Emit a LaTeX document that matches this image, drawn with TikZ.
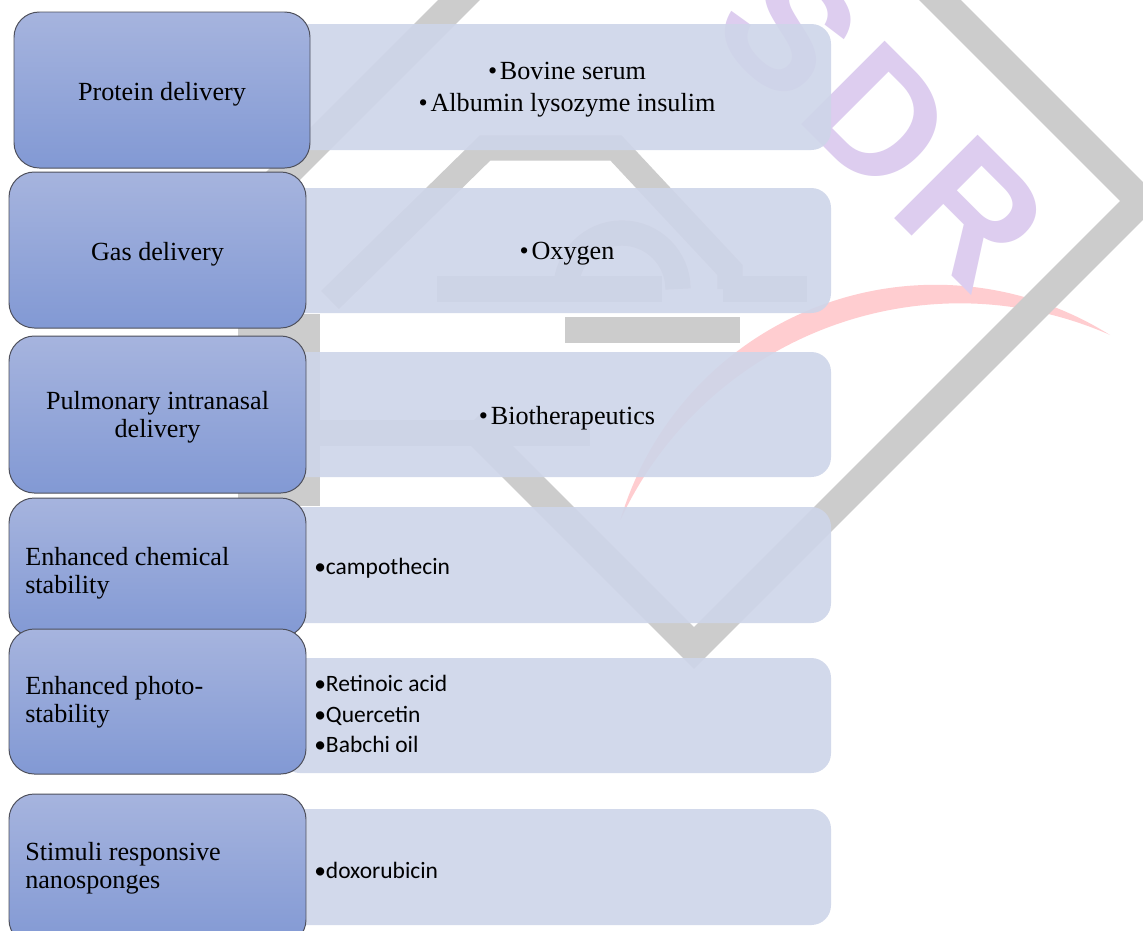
\documentclass[tikz,border=0pt]{standalone}
\usepackage{fontspec}
\setmainfont{Liberation Serif}
\newfontfamily\calib{Carlito}
\newfontfamily\logofont{Liberation Sans}
\usetikzlibrary{fit}
\definecolor{wmgray}{RGB}{204,204,204}
\definecolor{wmpurple}{RGB}{221,205,239}
\definecolor{wmpink}{RGB}{255,205,208}
\definecolor{lefttop}{RGB}{166,180,222}
\definecolor{leftbot}{RGB}{130,153,212}
\definecolor{leftedge}{RGB}{78,80,92}
\definecolor{rightfill}{RGB}{206,213,233}
\tikzset{
  leftbox/.style={draw=leftedge, line width=0.7pt, rounded corners=18pt, top color=lefttop, bottom color=leftbot, inner sep=0pt},
  rightbox/.style={fill=rightfill, fill opacity=0.9, rounded corners=14pt, inner sep=0pt},
  band/.style={draw=wmgray, line width=21pt, line join=miter},
  thinband/.style={draw=wmgray, line width=18pt, line join=miter},
  lefttext/.style={font=\fontsize{18.6}{19.8}\selectfont, inner sep=0pt, text=black},
  serifitem/.style={font=\fontsize{18.6}{22.7}\selectfont, align=center, inner sep=0pt},
  sansitem/.style={font=\calib\fontsize{16.7}{21.6}\selectfont, align=left, inner sep=0pt, anchor=west},
  logo/.style={text=wmpurple, font=\logofont\bfseries\fontsize{122}{122}\selectfont, rotate=-45, inner sep=0pt},
}
\begin{document}
\begin{tikzpicture}[x=0.025cm, y=-0.025cm]
\useasboundingbox (0,0) rectangle (1143,930);
\clip (0,0) rectangle (1143,930);
\fill[white] (0,0) rectangle (1143,930);

% watermark: pink crescent
\coordinate (pk1) at (1110,335);
\fill[wmpink] (pk1) arc[start angle=-57.9, end angle=-163.5, radius=328.6]
  arc[start angle=-155.1, end angle=-66.3, radius=374.2] -- cycle;

% watermark: gray shapes
\draw[band] (490,-31) -- (240,219);
\draw[band] (905,-35) -- (1141,201) -- (694,648) -- (470,424);
\draw[thinband] (300,433) -- (590,433);
\draw[thinband] (238,327) -- (307,327) -- (307,493) -- (238,493);
\draw[thinband] (330,300) -- (485,148) -- (616,148) -- (730,270) -- (730,289);
\draw[thinband] (437,289) -- (662,289);
\draw[thinband] (723,289) -- (807,289);
\draw[thinband] (565,330) -- (740,330);
\draw[thinband] (566,289) arc[start angle=180, end angle=360, radius=56];

% watermark: letters
\node[logo] (logo) at (882,122) {S\kern6pt D\kern6pt R};

% right boxes
\node[rightbox, fit={(280,24) (831,150)}] (r1) {};
\node[rightbox, fit={(280,188) (831,313)}] (r2) {};
\node[rightbox, fit={(280,352) (831,477)}] (r3) {};
\node[rightbox, fit={(280,507) (831,623)}] (r4) {};
\node[rightbox, fit={(280,658) (831,773)}] (r5) {};
\node[rightbox, fit={(280,809) (831,925)}] (r6) {};

% left boxes
\node[leftbox, fit={(14,12) (310,168)}] (l1) {};
\node[leftbox, fit={(9,172) (306,328)}] (l2) {};
\node[leftbox, fit={(9,336) (306,493)}] (l3) {};
\node[leftbox, fit={(9,498) (306,637)}] (l4) {};
\node[leftbox, fit={(9,629) (306,774)}] (l5) {};
\node[leftbox, fit={(9,794) (306,945)}] (l6) {};

% left texts
\node[lefttext, align=center] (t1) at (162,94) {Protein delivery};
\node[lefttext, align=center] (t2) at (157.5,254) {Gas delivery};
\node[lefttext, align=center] (t3) at (157.5,417) {Pulmonary intranasal\\delivery};
\node[lefttext, align=left, anchor=west] (t4) at (25,573) {Enhanced chemical\\stability};
\node[lefttext, align=left, anchor=west] (t5) at (25,702) {Enhanced photo-\\stability};
\node[lefttext, align=left, anchor=west] (t6) at (25,868) {Stimuli responsive\\nanosponges};

% right texts
\node[serifitem] (s1) at (567,90) {•\kern2pt Bovine serum\\•\kern2pt Albumin lysozyme insulim};
\node[serifitem] (s2) at (567,254) {•\kern2pt Oxygen};
\node[serifitem] (s3) at (567,418) {•\kern2pt Biotherapeutics};
\node[sansitem] (s4) at (314,568) {•campothecin};
\node[sansitem] (s5) at (314,714) {•Retinoic acid\\•Quercetin\\•Babchi oil};
\node[sansitem] (s6) at (314,870) {•doxorubicin};
\end{tikzpicture}
\end{document}
